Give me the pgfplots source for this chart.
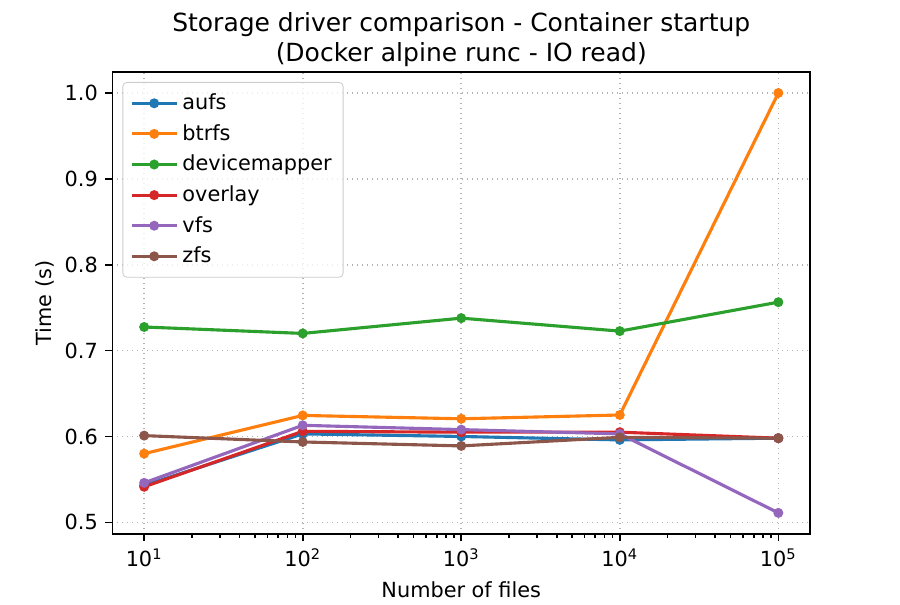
\documentclass[border=0pt]{standalone}
\usepackage{pgfplots}
\pgfplotsset{compat=1.18}
\usepackage{fontspec}
\setmainfont{DejaVu Sans}
\definecolor{c0}{HTML}{1F77B4}
\definecolor{c1}{HTML}{FF7F0E}
\definecolor{c2}{HTML}{2CA02C}
\definecolor{c3}{HTML}{D62728}
\definecolor{c4}{HTML}{9467BD}
\definecolor{c5}{HTML}{8C564B}
\begin{document}
\begin{tikzpicture}
  \begin{semilogxaxis}[
    scale only axis,
    width=335pt, height=221.8pt,
    xmin=6.3096, xmax=158489,
    ymin=0.4866, ymax=1.0245,
    xtick={10,100,1000,10000,100000},
    xticklabels={10\textsuperscript{1},10\textsuperscript{2},10\textsuperscript{3},10\textsuperscript{4},10\textsuperscript{5}},
    ytick={0.5,0.6,0.7,0.8,0.9,1.0},
    yticklabel style={/pgf/number format/fixed,/pgf/number format/fixed zerofill,/pgf/number format/precision=1},
    /pgf/number format/assume math mode=true,
    tick align=outside,
    tick pos=left,
    major tick length=3.5pt,
    minor tick length=2pt,
    tick style={black, line width=0.8pt},
    axis line style={line width=0.8pt},
    grid=major,
    major grid style={dotted, line width=0.8pt, draw=black!30},
    ticklabel style={font=\fontsize{10}{12}\selectfont},
    title={Storage driver comparison - Container startup\\(Docker alpine runc - IO read)},
    title style={align=center, font=\fontsize{12}{14.5}\selectfont, yshift=-7pt, overlay},
    xlabel={Number of files},
    ylabel={Time (s)},
    ylabel style={yshift=-2pt},
    label style={font=\fontsize{10}{12}\selectfont},
    legend style={at={(0.0143,0.9784)}, anchor=north west, draw=black!20,
      rounded corners=2pt, fill=white, fill opacity=0.8, text opacity=1,
      font=\fontsize{10}{12}\selectfont, row sep=1.6pt, inner sep=3.5pt},
    legend cell align=left,
    legend image code/.code={
      \draw[mark repeat=2,mark phase=2] plot coordinates {(0cm,0cm) (0.38cm,0cm) (0.76cm,0cm)};
    },
    every axis plot/.append style={line width=1.5pt, mark=*, mark size=1.6pt},
  ]
    \addplot[color=c0] coordinates {(10,0.543) (100,0.603) (1000,0.600) (10000,0.596) (100000,0.598)};
    \addlegendentry{aufs}
    \addplot[color=c1] coordinates {(10,0.580) (100,0.6245) (1000,0.6206) (10000,0.625) (100000,1.000)};
    \addlegendentry{btrfs}
    \addplot[color=c2] coordinates {(10,0.7275) (100,0.720) (1000,0.7378) (10000,0.7227) (100000,0.7564)};
    \addlegendentry{devicemapper}
    \addplot[color=c3] coordinates {(10,0.5414) (100,0.606) (1000,0.605) (10000,0.605) (100000,0.598)};
    \addlegendentry{overlay}
    \addplot[color=c4] coordinates {(10,0.546) (100,0.613) (1000,0.608) (10000,0.603) (100000,0.511)};
    \addlegendentry{vfs}
    \addplot[color=c5] coordinates {(10,0.601) (100,0.5936) (1000,0.589) (10000,0.599) (100000,0.598)};
    \addlegendentry{zfs}
  \end{semilogxaxis}
  \useasboundingbox (current axis.south west) ++(-54pt,-31.7pt) rectangle ([shift={(43.2pt,34.56pt)}]current axis.north east);
\end{tikzpicture}
\end{document}
